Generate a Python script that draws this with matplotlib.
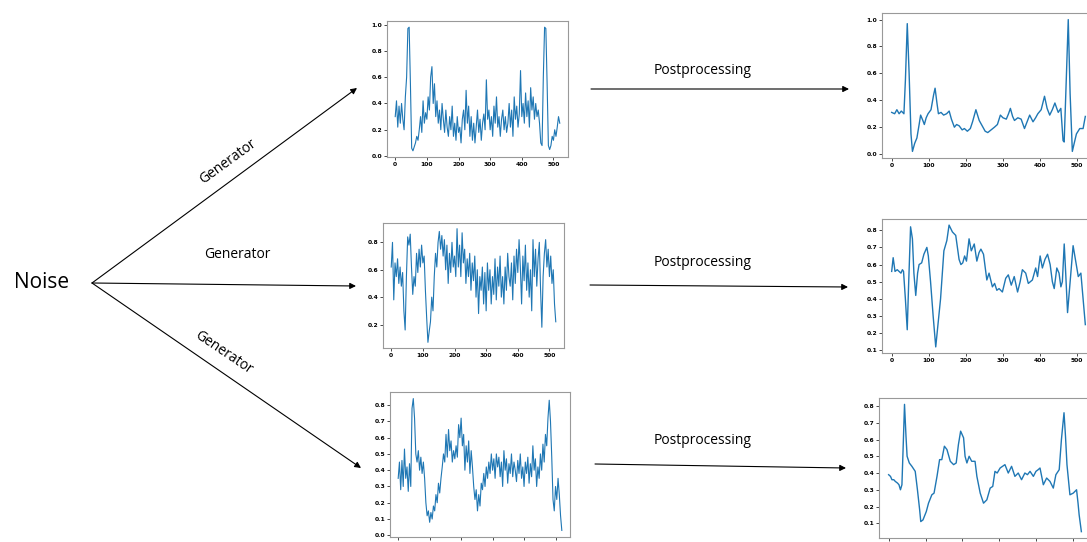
import numpy as np
import matplotlib
matplotlib.use('Agg')
import matplotlib.pyplot as plt

plt.rcParams['font.family'] = ['Open Sans', 'DejaVu Sans']

W, H = 1087, 542

# raw generator outputs, sampled every 4 steps (0..520)
gen_top = [
    0.30, 0.42, 0.22, 0.38, 0.25, 0.40, 0.28, 0.20, 0.45, 0.60,
    0.97, 0.98, 0.55, 0.06, 0.04, 0.07, 0.10, 0.15, 0.12, 0.20,
    0.30, 0.18, 0.42, 0.25, 0.33, 0.28, 0.45, 0.35, 0.60, 0.68,
    0.40, 0.55, 0.30, 0.42, 0.25, 0.35, 0.20, 0.40, 0.28, 0.18,
    0.35, 0.22, 0.15, 0.30, 0.20, 0.38, 0.15, 0.25, 0.12, 0.30,
    0.18, 0.22, 0.10, 0.28, 0.35, 0.20, 0.50, 0.25, 0.38, 0.15,
    0.30, 0.12, 0.25, 0.10, 0.22, 0.35, 0.18, 0.28, 0.12, 0.25,
    0.32, 0.20, 0.58, 0.28, 0.35, 0.20, 0.30, 0.15, 0.38, 0.25,
    0.45, 0.22, 0.30, 0.15, 0.28, 0.35, 0.20, 0.30, 0.18, 0.25,
    0.40, 0.22, 0.35, 0.15, 0.45, 0.28, 0.38, 0.22, 0.32, 0.65,
    0.30, 0.40, 0.25, 0.48, 0.30, 0.42, 0.22, 0.52, 0.35, 0.45,
    0.28, 0.40, 0.30, 0.35, 0.25, 0.10, 0.08, 0.60, 0.98, 0.97,
    0.55, 0.08, 0.05, 0.08, 0.15, 0.12, 0.20, 0.15, 0.22, 0.30,
    0.25,
]
gen_mid = [
    0.62, 0.80, 0.38, 0.65, 0.55, 0.68, 0.50, 0.62, 0.48, 0.58,
    0.30, 0.16, 0.55, 0.84, 0.78, 0.86, 0.62, 0.42, 0.55, 0.48,
    0.72, 0.58, 0.75, 0.62, 0.78, 0.65, 0.70, 0.45, 0.25, 0.07,
    0.15, 0.22, 0.40, 0.30, 0.55, 0.72, 0.62, 0.80, 0.88, 0.75,
    0.85, 0.70, 0.82, 0.60, 0.78, 0.50, 0.72, 0.58, 0.80, 0.62,
    0.70, 0.55, 0.90, 0.62, 0.78, 0.55, 0.87, 0.65, 0.75, 0.50,
    0.68, 0.55, 0.72, 0.45, 0.65, 0.52, 0.70, 0.40, 0.60, 0.28,
    0.55, 0.45, 0.62, 0.35, 0.58, 0.30, 0.65, 0.45, 0.60, 0.35,
    0.55, 0.42, 0.68, 0.38, 0.62, 0.48, 0.70, 0.40, 0.55, 0.35,
    0.62, 0.45, 0.72, 0.55, 0.48, 0.65, 0.38, 0.70, 0.50, 0.75,
    0.58, 0.82, 0.62, 0.35, 0.70, 0.52, 0.78, 0.45, 0.65, 0.40,
    0.60, 0.30, 0.82, 0.55, 0.75, 0.48, 0.68, 0.80, 0.45, 0.18,
    0.55, 0.72, 0.82, 0.62, 0.75, 0.55, 0.70, 0.50, 0.60, 0.35,
    0.22,
]
gen_bot = [
    0.35, 0.45, 0.28, 0.46, 0.30, 0.53, 0.35, 0.42, 0.27, 0.44,
    0.30, 0.78, 0.84, 0.72, 0.50, 0.45, 0.52, 0.40, 0.48, 0.38,
    0.45, 0.35, 0.20, 0.12, 0.15, 0.08, 0.14, 0.10, 0.18, 0.15,
    0.25, 0.20, 0.32, 0.26, 0.35, 0.42, 0.50, 0.45, 0.62, 0.48,
    0.65, 0.52, 0.58, 0.45, 0.52, 0.47, 0.55, 0.48, 0.68, 0.60,
    0.72, 0.55, 0.62, 0.40, 0.55, 0.45, 0.58, 0.38, 0.52, 0.42,
    0.30, 0.22, 0.28, 0.15, 0.25, 0.18, 0.32, 0.28, 0.38, 0.30,
    0.42, 0.35, 0.45, 0.38, 0.50, 0.40, 0.47, 0.35, 0.50, 0.42,
    0.48, 0.36, 0.45, 0.30, 0.52, 0.40, 0.47, 0.32, 0.44, 0.38,
    0.50, 0.36, 0.45, 0.40, 0.33, 0.46, 0.38, 0.50, 0.35, 0.42,
    0.30, 0.45, 0.38, 0.48, 0.32, 0.44, 0.36, 0.55, 0.40, 0.47,
    0.30, 0.42, 0.35, 0.50, 0.40, 0.56, 0.45, 0.62, 0.55, 0.72,
    0.83, 0.70, 0.48, 0.22, 0.15, 0.30, 0.22, 0.35, 0.25, 0.12,
    0.03,
]
gen_step = 4

# postprocessed (smoothed) outputs
post_top_x = [0, 8, 14, 20, 26, 33, 37, 42, 47, 52, 56, 62, 68, 74, 78, 84, 88, 93,
              98, 106, 113, 117, 122, 126, 133, 140, 148, 155, 161, 169, 175, 182,
              190, 196, 204, 212, 218, 227, 236, 244, 252, 259, 268, 277, 285, 293,
              300, 309, 315, 320, 326, 331, 340, 349, 358, 365, 372, 381, 388, 394,
              403, 412, 419, 426, 433, 440, 445, 449, 456, 462, 465, 470, 476, 481,
              487, 492, 498, 507, 516, 522]
post_top_y = [0.31, 0.30, 0.33, 0.30, 0.32, 0.30, 0.55, 0.97, 0.60, 0.15, 0.02, 0.08,
              0.12, 0.22, 0.29, 0.25, 0.22, 0.27, 0.30, 0.33, 0.44, 0.49, 0.38, 0.30,
              0.31, 0.29, 0.30, 0.32, 0.26, 0.20, 0.22, 0.21, 0.18, 0.19, 0.17, 0.19,
              0.24, 0.33, 0.25, 0.21, 0.17, 0.16, 0.18, 0.20, 0.22, 0.29, 0.27, 0.26,
              0.30, 0.34, 0.28, 0.25, 0.27, 0.26, 0.19, 0.24, 0.29, 0.24, 0.27, 0.30,
              0.33, 0.43, 0.34, 0.29, 0.33, 0.38, 0.34, 0.31, 0.34, 0.10, 0.09, 0.50,
              1.00, 0.45, 0.02, 0.08, 0.15, 0.19, 0.19, 0.28]
post_mid_x = [0, 4, 9, 15, 20, 25, 29, 32, 37, 42, 46, 51, 56, 60, 65, 70, 74, 81, 87,
              95, 99, 105, 112, 119, 125, 132, 141, 149, 155, 164, 173, 182, 187, 192,
              197, 202, 209, 215, 223, 230, 236, 241, 248, 257, 263, 272, 278, 284,
              290, 299, 308, 315, 323, 331, 340, 347, 353, 362, 369, 380, 389, 394,
              401, 407, 414, 421, 428, 434, 439, 446, 452, 457, 461, 466, 470, 475,
              482, 490, 497, 504, 511, 517, 523]
post_mid_y = [0.56, 0.64, 0.56, 0.57, 0.56, 0.55, 0.57, 0.56, 0.40, 0.22, 0.50, 0.82,
              0.75, 0.55, 0.42, 0.55, 0.60, 0.61, 0.66, 0.70, 0.65, 0.50, 0.30, 0.12,
              0.25, 0.40, 0.68, 0.74, 0.83, 0.79, 0.77, 0.63, 0.60, 0.61, 0.65, 0.62,
              0.75, 0.68, 0.72, 0.62, 0.67, 0.69, 0.66, 0.51, 0.55, 0.47, 0.49, 0.45,
              0.46, 0.44, 0.52, 0.54, 0.48, 0.53, 0.44, 0.50, 0.57, 0.55, 0.49, 0.51,
              0.58, 0.53, 0.65, 0.58, 0.63, 0.66, 0.60, 0.50, 0.46, 0.58, 0.55, 0.47,
              0.50, 0.72, 0.55, 0.32, 0.50, 0.71, 0.62, 0.53, 0.55, 0.40, 0.25]
post_bot_x = [0, 5, 9, 14, 18, 24, 28, 32, 36, 40, 43, 47, 50, 56, 63, 72, 78, 84, 87,
              93, 102, 108, 117, 123, 131, 138, 144, 151, 158, 167, 176, 183, 189,
              195, 203, 207, 212, 218, 225, 234, 239, 248, 257, 266, 275, 282, 288,
              294, 302, 315, 324, 333, 342, 351, 360, 369, 376, 383, 392, 399, 405,
              410, 419, 428, 437, 446, 453, 462, 468, 475, 479, 483, 491, 500, 509,
              513, 516, 522]
post_bot_y = [0.39, 0.38, 0.36, 0.36, 0.35, 0.34, 0.33, 0.30, 0.33, 0.60, 0.81, 0.62,
              0.50, 0.46, 0.44, 0.41, 0.30, 0.18, 0.11, 0.12, 0.17, 0.22, 0.27, 0.28,
              0.38, 0.48, 0.48, 0.56, 0.54, 0.47, 0.45, 0.46, 0.57, 0.65, 0.61, 0.50,
              0.46, 0.50, 0.47, 0.47, 0.38, 0.28, 0.22, 0.24, 0.31, 0.32, 0.41, 0.40,
              0.43, 0.45, 0.40, 0.44, 0.38, 0.40, 0.36, 0.40, 0.39, 0.41, 0.38, 0.41,
              0.42, 0.43, 0.33, 0.37, 0.35, 0.31, 0.39, 0.42, 0.60, 0.76, 0.62, 0.45,
              0.27, 0.28, 0.30, 0.22, 0.15, 0.05]

x_ticks = [0, 100, 200, 300, 400, 500]
y_ticks_a = [0.0, 0.2, 0.4, 0.6, 0.8, 1.0]
y_ticks_b = [0.2, 0.4, 0.6, 0.8]
y_ticks_c = [0.1, 0.2, 0.3, 0.4, 0.5, 0.6, 0.7, 0.8]
y_ticks_d = [0.0, 0.1, 0.2, 0.3, 0.4, 0.5, 0.6, 0.7, 0.8]

fig = plt.figure(figsize=(W / 100, H / 100), dpi=100)

# diagram layer (pixel coordinates, y down)
ax0 = fig.add_axes([0, 0, 1, 1])
ax0.set_xlim(0, W)
ax0.set_ylim(H, 0)
ax0.axis('off')

arrow = dict(arrowstyle='-|>', color='black', lw=0.8, mutation_scale=9, shrinkA=0, shrinkB=0)
for start, end in [((92, 283), (357, 88)), ((92, 283), (356, 286)), ((92, 283), (361, 468)),
                   ((591, 89), (849, 89)), ((590, 285), (848, 287)), ((595, 464), (846, 468))]:
    ax0.annotate('', xy=end, xytext=start, arrowprops=arrow)

ax0.text(42, 282, 'Noise', fontsize=15, ha='center', va='center')
ax0.text(228, 162, 'Generator', fontsize=10, ha='center', va='center', rotation=36)
ax0.text(237, 255, 'Generator', fontsize=10, ha='center', va='center')
ax0.text(224, 353, 'Generator', fontsize=10, ha='center', va='center', rotation=-34)
for y in [70, 263, 441]:
    ax0.text(703, y, 'Postprocessing', fontsize=10, ha='center', va='center')


def px_axes(l, t, r, b):
    return fig.add_axes([l / W, 1 - b / H, (r - l) / W, (b - t) / H])


def small_plot(box, x, y, yticks, lw):
    ax = px_axes(*box)
    ax.plot(x, y, color='#1f77b4', lw=lw)
    ax.set_xticks(x_ticks)
    ax.set_yticks(yticks)
    ax.tick_params(labelsize=4.3, length=2, width=0.5, pad=1.5)
    plt.setp(ax.get_xticklabels() + ax.get_yticklabels(), fontweight='bold',
             family='DejaVu Sans')
    for s in ax.spines.values():
        s.set_color('#999999')
        s.set_linewidth(0.8)
    return ax


gx = np.arange(len(gen_top)) * gen_step
small_plot((387, 21, 568, 157), gx, gen_top, y_ticks_a, 0.8)
small_plot((383, 223, 564, 348), gx, gen_mid, y_ticks_b, 0.8)
small_plot((390, 392, 570, 537), gx, gen_bot, y_ticks_d, 0.8)
small_plot((882, 13, 1095, 158), post_top_x, post_top_y, y_ticks_a, 1.0)
small_plot((882, 219, 1095, 353), post_mid_x, post_mid_y, y_ticks_c, 1.0)
small_plot((879, 398, 1091, 538), post_bot_x, post_bot_y, y_ticks_c, 1.0)

fig.savefig('out.png', dpi=100)
